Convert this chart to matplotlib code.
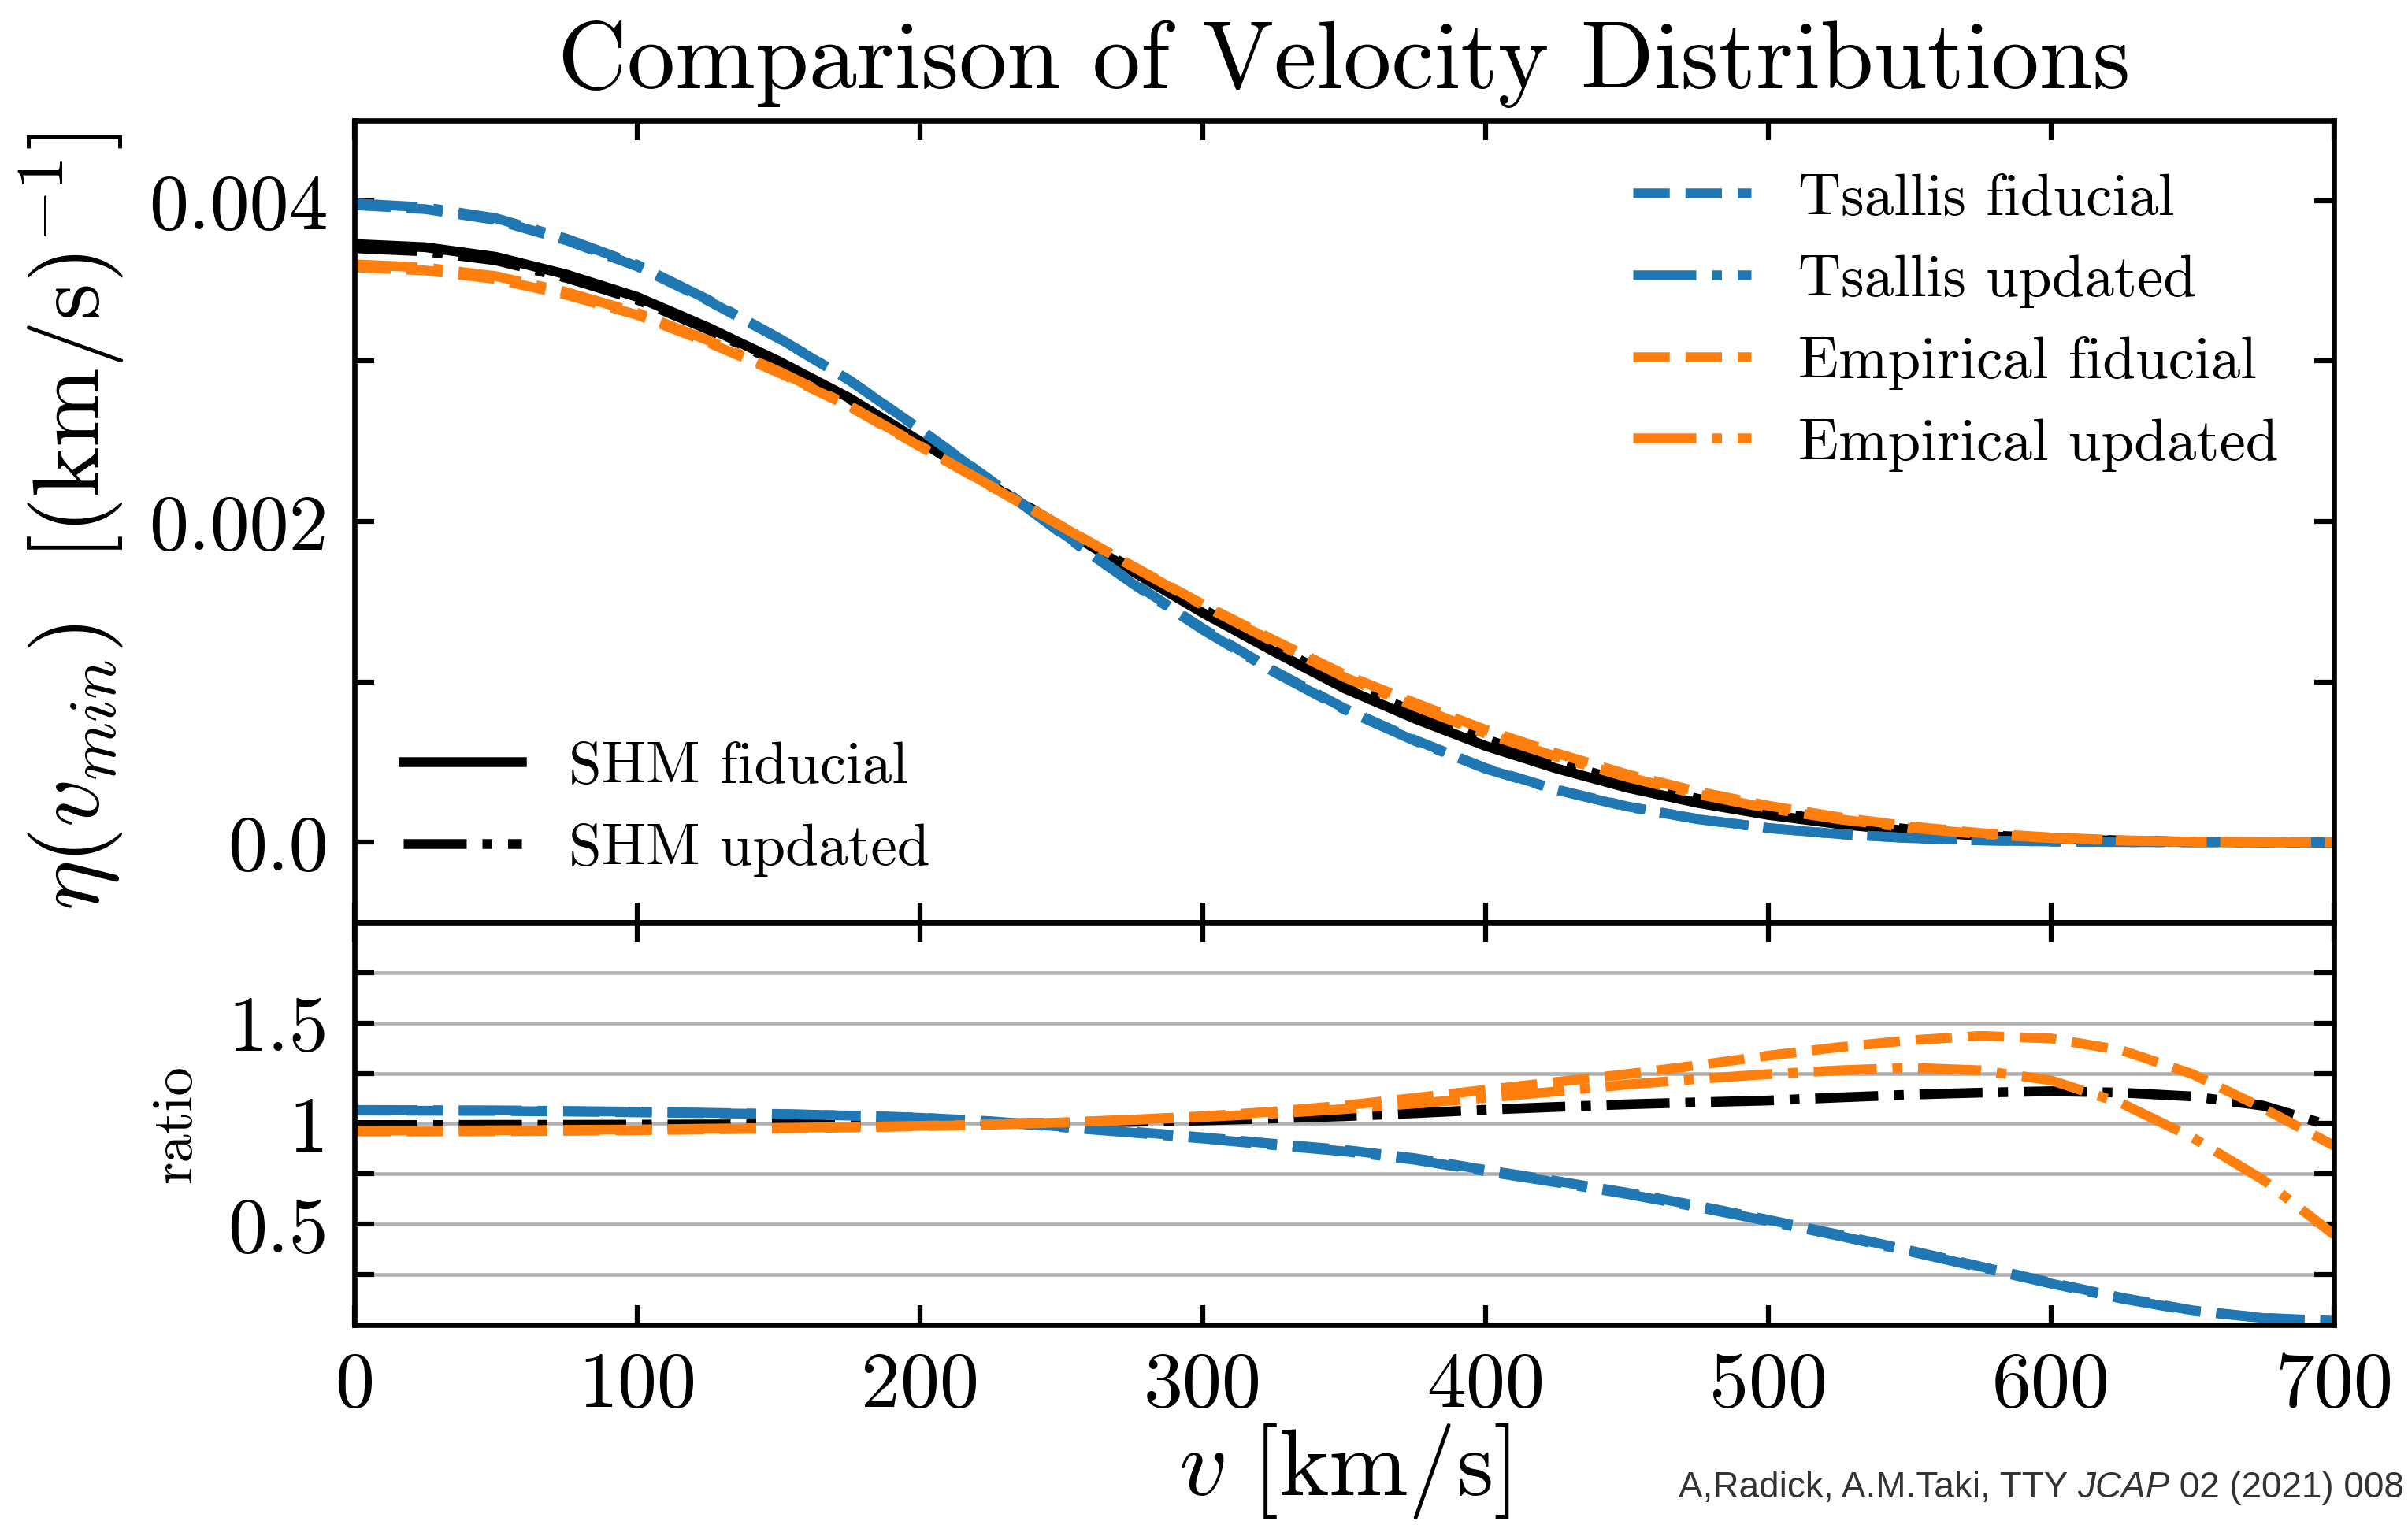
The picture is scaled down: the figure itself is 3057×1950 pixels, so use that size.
import numpy as np
import matplotlib
matplotlib.use("Agg")
import matplotlib.pyplot as plt

plt.rcParams['font.family'] = 'serif'
plt.rcParams['font.serif'] = ['cmr10']
plt.rcParams['mathtext.fontset'] = 'cm'
plt.rcParams['axes.unicode_minus'] = False
plt.rcParams['axes.formatter.use_mathtext'] = True

# velocity grid [km/s]
v = [0, 25, 50, 75, 100, 125, 150, 175, 200, 225, 250, 275, 300, 325, 350,
     375, 400, 425, 450, 475, 500, 525, 550, 575, 600, 625, 650, 675, 700]

# SHM fiducial eta(v_min) in units of 1e-3 (km/s)^-1
eta_shm_fid = [3.73, 3.71, 3.65, 3.54, 3.40, 3.21, 3.00, 2.77, 2.50, 2.23, 1.96, 1.69,
               1.43, 1.19, 0.96, 0.77, 0.60, 0.46, 0.34, 0.245, 0.17, 0.113, 0.070,
               0.040, 0.021, 0.009, 0.003, 0.0008, 0.0]

# ratios to SHM fiducial (bottom panel)
ratio_shm_upd = [0.993, 0.993, 0.994, 0.994, 0.995, 0.996, 0.997, 0.998, 0.999, 1.001,
                 1.004, 1.009, 1.016, 1.026, 1.037, 1.052, 1.069, 1.083, 1.096, 1.106,
                 1.115, 1.130, 1.144, 1.154, 1.161, 1.154, 1.135, 1.089, 0.984]
ratio_ts_fid = [1.065, 1.064, 1.063, 1.060, 1.056, 1.052, 1.047, 1.040, 1.030, 1.012,
                0.985, 0.960, 0.932, 0.900, 0.870, 0.828, 0.770, 0.715, 0.657, 0.592,
                0.522, 0.448, 0.370, 0.290, 0.210, 0.135, 0.072, 0.035, 0.020]
ratio_ts_upd = [1.068, 1.067, 1.066, 1.063, 1.059, 1.054, 1.048, 1.040, 1.029, 1.010,
                0.982, 0.955, 0.926, 0.893, 0.862, 0.820, 0.763, 0.708, 0.650, 0.585,
                0.515, 0.442, 0.365, 0.285, 0.205, 0.130, 0.069, 0.034, 0.018]
ratio_emp_fid = [0.961, 0.961, 0.962, 0.964, 0.967, 0.971, 0.976, 0.981, 0.987, 0.995,
                 1.006, 1.020, 1.037, 1.060, 1.090, 1.128, 1.168, 1.207, 1.246, 1.290,
                 1.338, 1.380, 1.414, 1.436, 1.423, 1.364, 1.246, 1.076, 0.890]
ratio_emp_upd = [0.966, 0.966, 0.967, 0.969, 0.971, 0.975, 0.979, 0.983, 0.989, 0.996,
                 1.005, 1.018, 1.033, 1.050, 1.072, 1.100, 1.128, 1.160, 1.194, 1.222,
                 1.246, 1.265, 1.278, 1.265, 1.215, 1.100, 0.930, 0.720, 0.448]

v = np.array(v)
shm = np.array(eta_shm_fid) * 1e-3
curves = [
    ("SHM fiducial", np.ones(len(v)), 'k', '-'),
    ("SHM updated", np.array(ratio_shm_upd), 'k', '-.'),
    ("Tsallis fiducial", np.array(ratio_ts_fid), '#1f77b4', '--'),
    ("Tsallis updated", np.array(ratio_ts_upd), '#1f77b4', '-.'),
    ("Empirical fiducial", np.array(ratio_emp_fid), '#ff7f0e', '--'),
    ("Empirical updated", np.array(ratio_emp_upd), '#ff7f0e', '-.'),
]

fig = plt.figure(figsize=(10.19, 6.503), dpi=300)
ax = fig.add_axes([0.1472, 0.3993, 0.8221, 0.5218])
axr = fig.add_axes([0.1472, 0.1374, 0.8221, 0.2619], sharex=ax)

lines = {}
for name, r, c, ls in curves:
    lines[name], = ax.plot(v, shm * r, color=c, ls=ls, lw=3)
    # the reference curve itself is not repeated in the ratio panel
    if name != "SHM fiducial":
        axr.plot(v, r, color=c, ls=ls, lw=3)

ax.set_xlim(0, 700)
ax.set_ylim(-0.0005, 0.0045)
ax.set_yticks([0.0, 0.001, 0.002, 0.003, 0.004],
              labels=['0.0', '', '0.002', '', '0.004'])
axr.set_ylim(0, 2)
axr.set_yticks([0.25, 0.5, 0.75, 1.0, 1.25, 1.5, 1.75],
               labels=['', '0.5', '', '1', '', '1.5', ''])
axr.set_xticks([0, 100, 200, 300, 400, 500, 600, 700],
               labels=['0', '100', '200', '300', '400', '500', '600', '700'])
axr.yaxis.grid(True, color='#b0b0b0', lw=1.1)
axr.set_axisbelow(True)
plt.setp(ax.get_xticklabels(), visible=False)

for a in (ax, axr):
    a.tick_params(direction='in', top=True, right=True, length=6, width=1.5,
                  labelsize=24, pad=8)
    for s in a.spines.values():
        s.set_linewidth(1.6)

ax.set_title("Comparison of Velocity Distributions", fontsize=29.3, pad=10)
ax.set_ylabel(r"$\eta(v_{min})\ \ [(\mathrm{km/s})^{-1}]$", fontsize=29)
ax.yaxis.set_label_coords(-0.115, 0.5)
axr.set_ylabel("ratio", fontsize=17.5)
axr.yaxis.set_label_coords(-0.077, 0.5)
axr.set_xlabel(r"$v\ [\mathrm{km/s}]$", fontsize=29)
axr.xaxis.set_label_coords(0.5, -0.24)

leg_kw = dict(borderpad=0, borderaxespad=0, frameon=False, fontsize=18,
              handlelength=2.0, handletextpad=0.8, labelspacing=0.48)
names1 = ["Tsallis fiducial", "Tsallis updated", "Empirical fiducial", "Empirical updated"]
leg1 = ax.legend([lines[n] for n in names1], names1,
                 loc='upper right', bbox_to_anchor=(0.972, 0.935), **leg_kw)
ax.add_artist(leg1)
names2 = ["SHM fiducial", "SHM updated"]
ax.legend([lines[n] for n in names2], names2,
          loc='lower left', bbox_to_anchor=(0.0247, 0.058), **leg_kw)

cite = dict(family='Liberation Sans', fontsize=11, color='#333333')
t1 = fig.text(0.697, 0.0255, "A,Radick, A.M.Taki, TTY ", va='baseline', **cite)
t2 = axr.annotate("JCAP", xy=(1, 0), xycoords=t1, va='bottom', ha='left',
                  style='italic', **cite)
axr.annotate(" 02 (2021) 008", xy=(1, 0), xycoords=t2, va='bottom', ha='left', **cite)

fig.savefig("out.png", dpi=300)
